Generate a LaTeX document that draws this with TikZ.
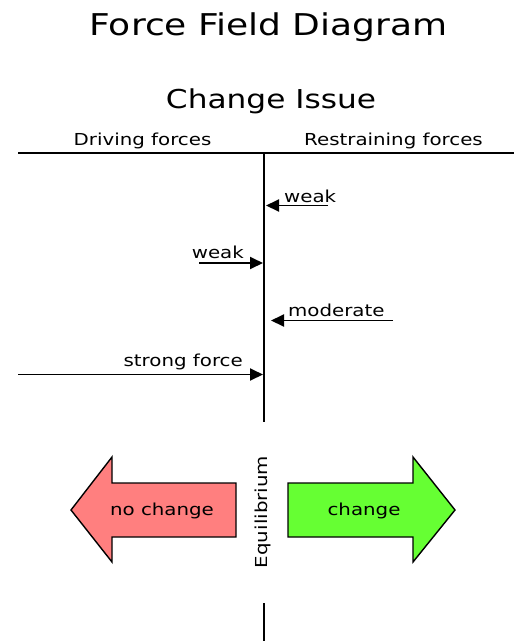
\documentclass[tikz,border=0pt]{standalone}
\usepackage{fontspec}
\setmainfont[FakeStretch=1.2]{DejaVu Sans}
\usetikzlibrary{arrows.meta}
\definecolor{nochangered}{HTML}{FF7F7F}
\definecolor{changegreen}{HTML}{66FF33}
\begin{document}
\begin{tikzpicture}[x=1pt,y=-1pt,
  rule/.style={line width=2pt},
  force/.style={line width=1.9pt,-{Triangle[length=13pt,width=12pt]}},
  lbl/.style={inner sep=0pt,font=\fontsize{16.5}{19}\selectfont},
  bigarrow/.style={draw=black,line width=1.4pt,line join=miter},
]
\useasboundingbox (0,0) rectangle (514,641);

% headings
\node[anchor=base,inner sep=0pt] (title) at (268.5,35) {\fontsize{30}{34}\selectfont Force Field Diagram};
\node[anchor=base,inner sep=0pt] (issue) at (271,108) {\fontsize{26}{30}\selectfont Change Issue};
\node[lbl,anchor=base] (driving) at (142.5,145) {Driving forces};
\node[lbl,anchor=base] (restraining) at (393.5,145) {Restraining forces};

% axis lines
\coordinate (hl) at (18,153);
\coordinate (hr) at (514,153);
\coordinate (vtop) at (264,153);
\coordinate (vbot) at (264,422);
\coordinate (vlow) at (264,603);
\coordinate (vend) at (264,641);
\draw[rule] (hl) -- (hr);
\draw[rule] (vtop) -- (vbot);
\draw[rule] (vlow) -- (vend);

% restraining forces
\coordinate (r1s) at (328,205.5); \coordinate (r1e) at (266,205.5);
\draw[force] (r1s) -- (r1e);
\node[lbl,anchor=base west] (r1) at (284,202) {weak};
\coordinate (r2s) at (393,320.5); \coordinate (r2e) at (271,320.5);
\draw[force] (r2s) -- (r2e);
\node[lbl,anchor=base west] (r2) at (288,316) {moderate};

% driving forces
\coordinate (d1s) at (199,263); \coordinate (d1e) at (263,263);
\draw[force] (d1s) -- (d1e);
\node[lbl,anchor=base east] (d1) at (244,258) {weak};
\coordinate (d2s) at (18,374.5); \coordinate (d2e) at (263,374.5);
\draw[force] (d2s) -- (d2e);
\node[lbl,anchor=base east] (d2) at (243,366.5) {strong force};

% outcome arrows
\filldraw[bigarrow,fill=nochangered]
  (71,510) -- (112,457) -- (112,483) -- (236,483) -- (236,537)
  -- (112,537) -- (112,562) -- cycle;
\node[lbl] (nochange) at (162,511) {no change};
\filldraw[bigarrow,fill=changegreen]
  (455,510) -- (413,457) -- (413,483) -- (288,483) -- (288,537)
  -- (413,537) -- (413,562) -- cycle;
\node[lbl] (change) at (364,511) {change};

\node[lbl,rotate=90] (equilibrium) at (263,512) {Equilibrium};
\end{tikzpicture}
\end{document}
